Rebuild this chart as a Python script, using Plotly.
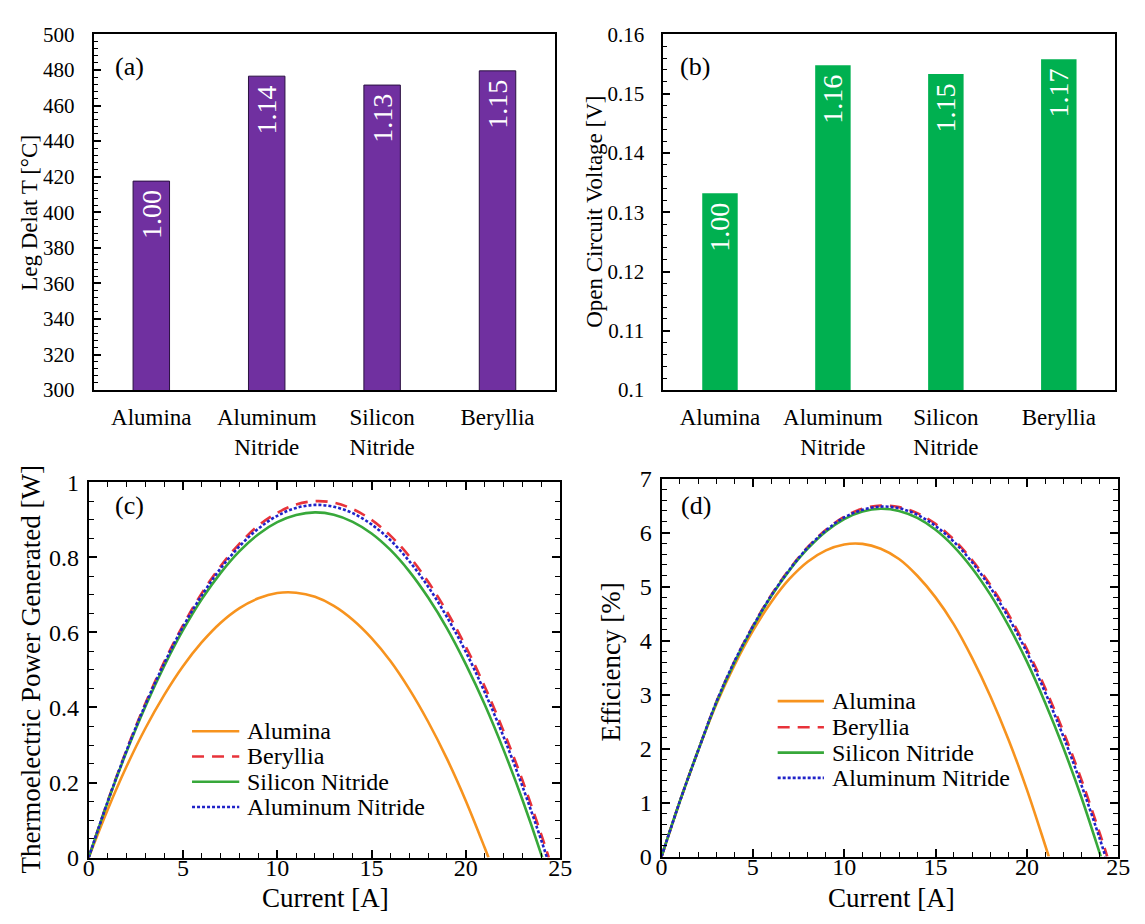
import plotly.graph_objects as go

W, H = 1145, 924
FONT = "Liberation Serif"

# ---- bar panels (a) and (b) ----
materials = ["Alumina", "Aluminum<br>Nitride", "Silicon<br>Nitride", "Beryllia"]
leg_delta_t = [417.5, 476.5, 471.5, 479.5]          # [°C]
open_circuit_v = [0.1332, 0.1548, 0.1533, 0.1558]   # [V]

# ---- current sweeps for panels (c) and (d) ----
cur_alumina = [0, 1, 2, 3, 4, 5, 6, 7, 8, 9, 10, 11, 12, 13, 14, 15, 16, 17, 18, 19, 20, 21, 21.2]
cur_beryllia = [0, 1, 2, 3, 4, 5, 6, 7, 8, 9, 10, 11, 12, 13, 14, 15, 16, 17, 18, 19, 20, 21, 22, 23, 24, 24.4]
cur_sin = [0, 1, 2, 3, 4, 5, 6, 7, 8, 9, 10, 11, 12, 13, 14, 15, 16, 17, 18, 19, 20, 21, 22, 23, 24, 24.05]
cur_aln = [0, 1, 2, 3, 4, 5, 6, 7, 8, 9, 10, 11, 12, 13, 14, 15, 16, 17, 18, 19, 20, 21, 22, 23, 24, 24.3]

# thermoelectric power generated [W]
pow_alumina = [0, 0.127, 0.242, 0.344, 0.433, 0.510, 0.574, 0.626, 0.665, 0.691, 0.705, 0.706,
               0.695, 0.671, 0.634, 0.585, 0.524, 0.449, 0.362, 0.263, 0.151, 0.026, 0]
pow_beryllia = [0, 0.149, 0.286, 0.410, 0.521, 0.619, 0.705, 0.777, 0.837, 0.885, 0.919, 0.941, 0.950,
                0.946, 0.929, 0.900, 0.858, 0.803, 0.735, 0.655, 0.562, 0.456, 0.337, 0.206, 0.061, 0]
pow_sin = [0, 0.147, 0.281, 0.402, 0.510, 0.606, 0.689, 0.759, 0.817, 0.862, 0.894, 0.913, 0.920,
           0.914, 0.895, 0.864, 0.820, 0.763, 0.693, 0.611, 0.515, 0.408, 0.287, 0.154, 0.008, 0]
pow_aln = [0, 0.148, 0.284, 0.407, 0.517, 0.615, 0.699, 0.771, 0.830, 0.877, 0.911, 0.932, 0.940,
           0.935, 0.918, 0.888, 0.846, 0.790, 0.722, 0.641, 0.548, 0.441, 0.322, 0.190, 0.046, 0]

# efficiency [%]
eff_alumina = [0, 1.02, 1.96, 2.82, 3.55, 4.18, 4.71, 5.14, 5.46, 5.67, 5.78, 5.79,
               5.70, 5.51, 5.20, 4.80, 4.30, 3.68, 2.97, 2.16, 1.24, 0.21, 0]
eff_beryllia = [0, 1.02, 1.96, 2.86, 3.62, 4.27, 4.84, 5.32, 5.73, 6.05, 6.29, 6.44, 6.50,
                6.47, 6.36, 6.16, 5.87, 5.49, 5.03, 4.48, 3.84, 3.12, 2.31, 1.41, 0.42, 0]
eff_sin = [0, 1.02, 1.96, 2.85, 3.60, 4.25, 4.82, 5.30, 5.70, 6.02, 6.25, 6.39, 6.44,
           6.40, 6.27, 6.05, 5.74, 5.34, 4.85, 4.27, 3.61, 2.85, 2.01, 1.08, 0.05, 0]
eff_aln = [0, 1.02, 1.96, 2.86, 3.62, 4.26, 4.83, 5.31, 5.72, 6.04, 6.28, 6.42, 6.48,
           6.45, 6.33, 6.12, 5.83, 5.45, 4.98, 4.42, 3.78, 3.04, 2.22, 1.31, 0.32, 0]

series = [
    # name, current, power, efficiency, colour, dash
    ("Alumina", cur_alumina, pow_alumina, eff_alumina, "#F7931E", "solid"),
    ("Beryllia", cur_beryllia, pow_beryllia, eff_beryllia, "#E8333A", "12px,8px"),
    ("Silicon Nitride", cur_sin, pow_sin, eff_sin, "#37A83A", "solid"),
    ("Aluminum Nitride", cur_aln, pow_aln, eff_aln, "#1F22C8", "3px,2px"),
]


def xd(p0, p1):
    return [p0 / W, p1 / W]


def yd(top, bottom):
    return [1 - bottom / H, 1 - top / H]


fig = go.Figure()

# bars
fig.add_trace(go.Bar(x=materials, y=leg_delta_t, width=0.316, marker_color="#7030A0",
                     marker_line=dict(color="#2a1040", width=1), xaxis="x", yaxis="y",
                     showlegend=False))
fig.add_trace(go.Bar(x=materials, y=open_circuit_v, width=0.314, marker_color="#00B050",
                     marker_line_width=0, xaxis="x2", yaxis="y2", showlegend=False))

# curves
for name, cur, pw, ef, col, dash in series:
    fig.add_trace(go.Scatter(x=cur, y=pw, mode="lines", name=name, xaxis="x3", yaxis="y3",
                             line=dict(color=col, width=2.6, dash=dash, shape="spline"),
                             showlegend=False))
    fig.add_trace(go.Scatter(x=cur, y=ef, mode="lines", name=name, xaxis="x4", yaxis="y4",
                             line=dict(color=col, width=2.6, dash=dash, shape="spline"),
                             showlegend=False))

frame = dict(showline=True, linecolor="black", linewidth=2, mirror=True,
             showgrid=False, zeroline=False)

bar_x = dict(type="category", ticks="", tickfont=dict(family=FONT, size=23, color="black"),
             ticklabelstandoff=5, **frame)
bar_y_common = dict(ticks="inside", ticklen=7, tickwidth=1.5, tickcolor="black",
                    tickfont=dict(family=FONT, size=21, color="black"),
                    ticklabelstandoff=13, **frame)

curve_x = dict(range=[0, 25], dtick=5, ticks="inside", ticklen=8, tickwidth=1.5, tickcolor="black",
               minor=dict(dtick=1, ticks="inside", ticklen=5, tickwidth=1.3, tickcolor="black"),
               tickfont=dict(family=FONT, size=24, color="black"), ticklabelstandoff=-12,
               **{**frame, "mirror": "allticks"})
curve_y = dict(ticks="inside", ticklen=8, tickwidth=1.5, tickcolor="black",
               tickfont=dict(family=FONT, size=24, color="black"), ticklabelstandoff=3,
               **{**frame, "mirror": "allticks"})

fig.update_layout(
    width=W, height=H, margin=dict(l=0, r=0, t=0, b=0),
    paper_bgcolor="white", plot_bgcolor="white",
    font=dict(family=FONT, color="black"),
    xaxis=dict(domain=xd(89, 558), anchor="y", **bar_x),
    yaxis=dict(domain=yd(22, 388), anchor="x", range=[300, 500], dtick=20,
               minor=dict(dtick=4, ticks="inside", ticklen=4, tickwidth=1, tickcolor="black"),
               **bar_y_common),
    xaxis2=dict(domain=xd(668, 1127), anchor="y2", **bar_x),
    yaxis2=dict(domain=yd(22, 388), anchor="x2", range=[0.1, 0.16], dtick=0.01,
                minor=dict(dtick=0.002, ticks="inside", ticklen=4, tickwidth=1, tickcolor="black"),
                **bar_y_common),
    xaxis3=dict(domain=xd(84, 563), anchor="y3", **curve_x),
    yaxis3=dict(domain=yd(483, 869), anchor="x3", range=[0, 1], dtick=0.2,
                minor=dict(dtick=0.05, ticks="inside", ticklen=5, tickwidth=1.3, tickcolor="black"),
                **curve_y),
    xaxis4=dict(domain=xd(666, 1130), anchor="y4", **curve_x),
    yaxis4=dict(domain=yd(479, 868), anchor="x4", range=[0, 7], dtick=1,
                minor=dict(dtick=0.2, ticks="inside", ticklen=5, tickwidth=1.3, tickcolor="black"),
                **curve_y),
)

ann = []
shapes = []


def paper_text(text, x, y, size, angle=0):
    ann.append(dict(text=text, x=x / W, y=1 - y / H, xref="paper", yref="paper",
                    showarrow=False, textangle=angle, xanchor="center", yanchor="middle",
                    font=dict(family=FONT, size=size, color="black")))


# axis titles
paper_text("Leg Delat T [°C]", 24, 206, 23, -90)
paper_text("Open Circuit Voltage [V]", 598, 205, 23, -90)
paper_text("Thermoelectric Power Generated [W]", 25, 675, 27, -90)
paper_text("Current [A]", 325, 911, 27)
paper_text("Efficiency [%]", 615, 668, 27, -90)
paper_text("Current [A]", 900, 911, 27)

# panel tags
paper_text("(a)", 125, 55, 26)
paper_text("(b)", 700, 55, 26)
paper_text("(c)", 125, 507, 26)
paper_text("(d)", 701, 507, 26)

# ratio labels inside the bars, relative to Alumina
for vals, xa, ya in [(leg_delta_t, "x", "y"), (open_circuit_v, "x2", "y2")]:
    for cat, v in zip(materials, vals):
        ann.append(dict(text=f"{v / vals[0]:.2f}", x=cat, y=v, xref=xa, yref=ya,
                        showarrow=False, textangle=-90, xanchor="center", yanchor="top",
                        yshift=-7, font=dict(family=FONT, size=28, color="white")))

# legends for the curve panels
for x0, x1, xt, rows in [(189, 237, 243, [739, 765, 791, 817]),
                         (784, 831, 837, [708, 735, 761, 787])]:
    for (name, _, _, _, col, dash), yr in zip(series, rows):
        shapes.append(dict(type="line", xref="paper", yref="paper",
                           x0=x0 / W, x1=x1 / W, y0=1 - yr / H, y1=1 - yr / H,
                           line=dict(color=col, width=2.6, dash=dash)))
        ann.append(dict(text=name, x=xt / W, y=1 - yr / H, xref="paper", yref="paper",
                        showarrow=False, xanchor="left", yanchor="middle",
                        font=dict(family=FONT, size=24, color="black")))

fig.update_layout(annotations=ann, shapes=shapes)

fig.write_html("out.html")
